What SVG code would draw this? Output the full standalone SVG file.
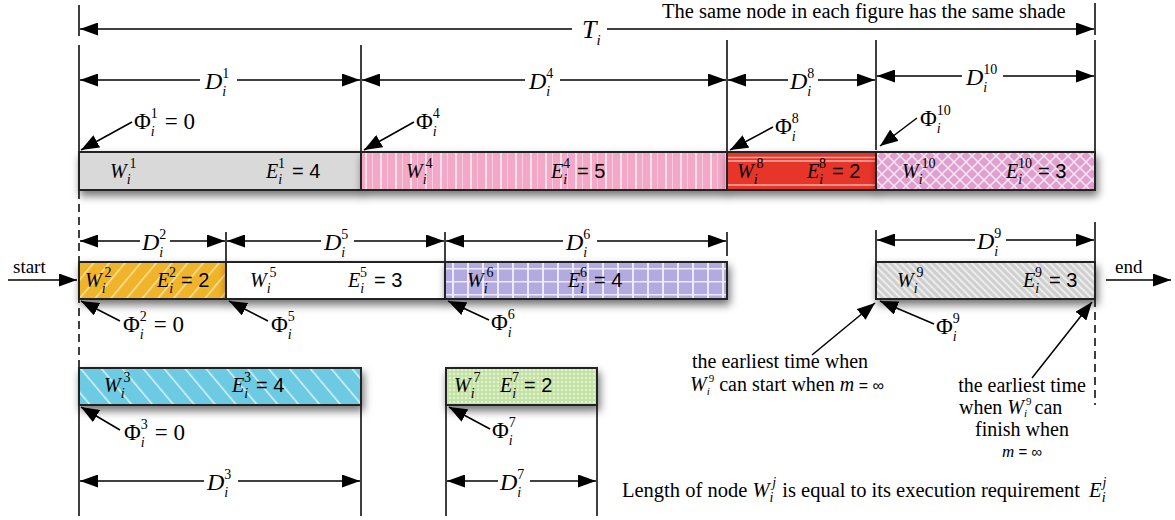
<svg xmlns="http://www.w3.org/2000/svg" width="1175" height="520" viewBox="0 0 1175 520">
<defs>
<style>
.t{font-family:"Liberation Serif",serif;font-size:20px;fill:#000}
.it{font-style:italic}
.s{font-size:14px}
.sa{font-family:"Liberation Sans",sans-serif}
.big{font-size:24px}
.ph{font-size:23px}
.an{font-size:20px}
.ln{stroke:#000;stroke-width:1.5;fill:none}
.dl{stroke:#000;stroke-width:1.5;fill:none;stroke-dasharray:8,5}
.bar{stroke:#222;stroke-width:2}
.a{stroke:#000;stroke-width:1.5;fill:none;marker-end:url(#ah)}
.as{stroke:#000;stroke-width:1.5;fill:none;marker-start:url(#ahs)}
.p{stroke:#000;stroke-width:1.5;fill:none;marker-end:url(#ap)}
</style>
<marker id="ah" markerUnits="userSpaceOnUse" markerWidth="18" markerHeight="13" refX="18" refY="6.5" orient="auto"><path d="M0,0 L18,6.5 L0,13 z" fill="#000"/></marker>
<marker id="ahs" markerUnits="userSpaceOnUse" markerWidth="18" markerHeight="13" refX="0" refY="6.5" orient="auto"><path d="M18,0 L0,6.5 L18,13 z" fill="#000"/></marker>
<marker id="ap" markerUnits="userSpaceOnUse" markerWidth="18" markerHeight="14" refX="18" refY="7" orient="auto"><path d="M0,0 L18,7 L0,14 z" fill="#000"/></marker>
<filter id="sh" x="-5%" y="-30%" width="115%" height="180%"><feDropShadow dx="2" dy="5" stdDeviation="4" flood-color="#000" flood-opacity="0.55"/></filter>
<pattern id="p4" patternUnits="userSpaceOnUse" width="15" height="40" x="361"><rect width="15" height="40" fill="#f2a8c6"/><rect x="4" width="2" height="40" fill="#fbe0ea"/><rect x="11" width="1" height="40" fill="#f8d0e0"/></pattern>
<pattern id="p10" patternUnits="userSpaceOnUse" width="12" height="12"><rect width="12" height="12" fill="#dfa0d0"/><path d="M0,0 L12,12 M12,0 L0,12" stroke="#fbe6f4" stroke-width="1.5"/></pattern>
<pattern id="p2" patternUnits="userSpaceOnUse" width="12" height="12" patternTransform="rotate(40)"><rect width="12" height="12" fill="#f0b42a"/><rect width="1.5" height="12" fill="#fbe2a0"/></pattern>
<pattern id="p6" patternUnits="userSpaceOnUse" width="15" height="13" x="445" y="262"><rect width="15" height="13" fill="#b3abdf"/><rect x="7" width="2" height="13" fill="#eeeaff"/><rect y="6" width="15" height="1.5" fill="#eeeaff"/></pattern>
<pattern id="p9" patternUnits="userSpaceOnUse" width="5" height="5" patternTransform="rotate(-45)"><rect width="5" height="5" fill="#cfcfcf"/><rect width="2" height="5" fill="#ececec"/></pattern>
<pattern id="p3" patternUnits="userSpaceOnUse" width="16" height="16" patternTransform="rotate(-40)"><rect width="16" height="16" fill="#6ccbe2"/><rect width="1.5" height="16" fill="#d8f2fa"/></pattern>
<pattern id="p7" patternUnits="userSpaceOnUse" width="4" height="4"><rect width="4" height="4" fill="#c5e3a6"/><circle cx="2" cy="2" r="0.9" fill="#f4fbe8"/></pattern>
</defs>
<rect width="1175" height="520" fill="#fff"/>

<g id="guides">
<path class="ln" d="M79,5 V36 M1095,3 V35 M79,45 V152 M361,45 V152 M727,40 V152 M876,40 V150 M1095,40 V190 M226,232 V262 M445,232 V262 M727,232 V256 M876,230 V262 M1095,222 V262 M79,405 V516 M361,405 V516 M446,405 V516 M597,405 V516"/>
<path class="dl" d="M79,152 V372 M1095,299 V405"/>
</g>

<g id="connectors">
<line class="as" x1="80" y1="29" x2="572" y2="29"/><line class="a" x1="607" y1="29" x2="1094" y2="29"/>
<line class="as" x1="80" y1="80" x2="200" y2="80"/><line class="a" x1="237" y1="80" x2="360" y2="80"/>
<line class="as" x1="362" y1="80" x2="525" y2="80"/><line class="a" x1="560" y1="80" x2="726" y2="80"/>
<line class="as" x1="728" y1="80" x2="788" y2="80"/><line class="a" x1="818" y1="80" x2="875" y2="80"/>
<line class="as" x1="877" y1="76" x2="962" y2="76"/><line class="a" x1="1003" y1="76" x2="1094" y2="76"/>
<line class="as" x1="80" y1="241" x2="140" y2="241"/><line class="a" x1="170" y1="241" x2="225" y2="241"/>
<line class="as" x1="227" y1="241" x2="321" y2="241"/><line class="a" x1="354" y1="241" x2="444" y2="241"/>
<line class="as" x1="446" y1="241" x2="563" y2="241"/><line class="a" x1="597" y1="241" x2="726" y2="241"/>
<line class="as" x1="877" y1="240" x2="975" y2="240"/><line class="a" x1="1006" y1="240" x2="1094" y2="240"/>
<line class="as" x1="80" y1="481" x2="204" y2="481"/><line class="a" x1="238" y1="481" x2="360" y2="481"/>
<line class="as" x1="447" y1="481" x2="498" y2="481"/><line class="a" x1="530" y1="481" x2="596" y2="481"/>
<line class="a" x1="8" y1="280" x2="77" y2="280"/>
<line class="a" x1="1106" y1="280" x2="1171" y2="280"/>
<line class="p" x1="132" y1="122" x2="81" y2="150"/>
<line class="p" x1="414" y1="122" x2="364" y2="150"/>
<line class="p" x1="773" y1="127" x2="730" y2="150"/>
<line class="p" x1="917" y1="118" x2="880" y2="146"/>
<line class="p" x1="120" y1="321" x2="81" y2="301"/>
<line class="p" x1="268" y1="321" x2="229" y2="301"/>
<line class="p" x1="489" y1="320" x2="448" y2="301"/>
<line class="p" x1="934" y1="324" x2="880" y2="301"/>
<line class="p" x1="812" y1="355" x2="875" y2="303"/>
<line class="p" x1="1032" y1="378" x2="1092" y2="302"/>
<line class="p" x1="120" y1="430" x2="81" y2="407"/>
<line class="p" x1="490" y1="429" x2="449" y2="407"/>
</g>

<g id="n1" filter="url(#sh)"><rect class="bar" x="79" y="152" width="282" height="38" fill="#d9d9d9"/></g>
<g id="n4" filter="url(#sh)"><rect class="bar" x="361" y="152" width="366" height="38" fill="url(#p4)"/></g>
<g id="n8" filter="url(#sh)"><rect x="727" y="152" width="149" height="38" fill="#e8342b"/><path d="M728,157.5 H875 M728,161 H875 M728,185 H875" stroke="#f8b0a8" stroke-width="1.3"/><rect class="bar" x="727" y="152" width="149" height="38" fill="none"/></g>
<g id="n10" filter="url(#sh)"><rect class="bar" x="876" y="152" width="219" height="38" fill="url(#p10)"/></g>
<g id="n2" filter="url(#sh)"><rect class="bar" x="79" y="262" width="147" height="37" fill="url(#p2)"/></g>
<g id="n5" filter="url(#sh)"><rect class="bar" x="226" y="262" width="219" height="37" fill="#fff"/></g>
<g id="n6" filter="url(#sh)"><rect class="bar" x="445" y="262" width="282" height="37" fill="url(#p6)"/></g>
<g id="n9" filter="url(#sh)"><rect class="bar" x="876" y="262" width="219" height="37" fill="url(#p9)"/></g>
<g id="n3" filter="url(#sh)"><rect class="bar" x="79" y="368" width="282" height="37" fill="url(#p3)"/></g>
<g id="n7" filter="url(#sh)"><rect class="bar" x="446" y="368" width="151" height="37" fill="url(#p7)"/></g>

<g id="labels">
<text class="t" x="662" y="18" style="font-size:20.5px">The same node in each figure has the same shade</text>
<text class="t" x="582" y="38" style="font-size:26px"><tspan class="it">T</tspan><tspan class="it" style="font-size:15px" dy="7">i</tspan></text>
<text class="t big" x="205" y="89"><tspan class="it">D</tspan><tspan class="s it" dy="7">i</tspan><tspan class="s" dx="-4" dy="-18">1</tspan></text>
<text class="t big" x="529" y="89"><tspan class="it">D</tspan><tspan class="s it" dy="7">i</tspan><tspan class="s" dx="-4" dy="-18">4</tspan></text>
<text class="t big" x="790" y="89"><tspan class="it">D</tspan><tspan class="s it" dy="7">i</tspan><tspan class="s" dx="-4" dy="-18">8</tspan></text>
<text class="t big" x="966" y="85"><tspan class="it">D</tspan><tspan class="s it" dy="7">i</tspan><tspan class="s" dx="-4" dy="-18">10</tspan></text>
<text class="t big" x="142" y="250"><tspan class="it">D</tspan><tspan class="s it" dy="7">i</tspan><tspan class="s" dx="-4" dy="-18">2</tspan></text>
<text class="t big" x="324" y="250"><tspan class="it">D</tspan><tspan class="s it" dy="7">i</tspan><tspan class="s" dx="-4" dy="-18">5</tspan></text>
<text class="t big" x="566" y="250"><tspan class="it">D</tspan><tspan class="s it" dy="7">i</tspan><tspan class="s" dx="-4" dy="-18">6</tspan></text>
<text class="t big" x="977" y="249"><tspan class="it">D</tspan><tspan class="s it" dy="7">i</tspan><tspan class="s" dx="-4" dy="-18">9</tspan></text>
<text class="t big" x="207" y="490"><tspan class="it">D</tspan><tspan class="s it" dy="7">i</tspan><tspan class="s" dx="-4" dy="-18">3</tspan></text>
<text class="t big" x="500" y="490"><tspan class="it">D</tspan><tspan class="s it" dy="7">i</tspan><tspan class="s" dx="-4" dy="-18">7</tspan></text>

<text class="t ph" x="134" y="129">Φ<tspan class="s it" dy="7">i</tspan><tspan class="s" dx="-4" dy="-18">1</tspan><tspan dx="7" dy="11">= 0</tspan></text>
<text class="t ph" x="416" y="129">Φ<tspan class="s it" dy="7">i</tspan><tspan class="s" dx="-4" dy="-18">4</tspan></text>
<text class="t ph" x="775" y="134">Φ<tspan class="s it" dy="7">i</tspan><tspan class="s" dx="-4" dy="-18">8</tspan></text>
<text class="t ph" x="920" y="126">Φ<tspan class="s it" dy="7">i</tspan><tspan class="s" dx="-4" dy="-18">10</tspan></text>
<text class="t ph" x="123" y="332">Φ<tspan class="s it" dy="7">i</tspan><tspan class="s" dx="-4" dy="-18">2</tspan><tspan dx="7" dy="11">= 0</tspan></text>
<text class="t ph" x="271" y="332">Φ<tspan class="s it" dy="7">i</tspan><tspan class="s" dx="-4" dy="-18">5</tspan></text>
<text class="t ph" x="491" y="330">Φ<tspan class="s it" dy="7">i</tspan><tspan class="s" dx="-4" dy="-18">6</tspan></text>
<text class="t ph" x="936" y="334">Φ<tspan class="s it" dy="7">i</tspan><tspan class="s" dx="-4" dy="-18">9</tspan></text>
<text class="t ph" x="124" y="440">Φ<tspan class="s it" dy="7">i</tspan><tspan class="s" dx="-4" dy="-18">3</tspan><tspan dx="7" dy="11">= 0</tspan></text>
<text class="t ph" x="492" y="438">Φ<tspan class="s it" dy="7">i</tspan><tspan class="s" dx="-4" dy="-18">7</tspan></text>

<text class="t" x="110" y="178"><tspan class="it">W</tspan><tspan class="s it" dy="6">i</tspan><tspan class="s" dx="-1" dy="-16">1</tspan></text>
<text class="t" x="266" y="178"><tspan class="it">E</tspan><tspan class="s it" dy="6">i</tspan><tspan class="s" dx="-4" dy="-16">1</tspan><tspan class="sa" dx="7" dy="10">= 4</tspan></text>
<text class="t" x="406" y="178"><tspan class="it">W</tspan><tspan class="s it" dy="6">i</tspan><tspan class="s" dx="-1" dy="-16">4</tspan></text>
<text class="t" x="551" y="178"><tspan class="it">E</tspan><tspan class="s it" dy="6">i</tspan><tspan class="s" dx="-4" dy="-16">4</tspan><tspan class="sa" dx="7" dy="10">= 5</tspan></text>
<text class="t" x="737" y="178"><tspan class="it">W</tspan><tspan class="s it" dy="6">i</tspan><tspan class="s" dx="-1" dy="-16">8</tspan></text>
<text class="t" x="807" y="178"><tspan class="it">E</tspan><tspan class="s it" dy="6">i</tspan><tspan class="s" dx="-4" dy="-16">8</tspan><tspan class="sa" dx="6" dy="10">= 2</tspan></text>
<text class="t" x="902" y="178"><tspan class="it">W</tspan><tspan class="s it" dy="6">i</tspan><tspan class="s" dx="-1" dy="-16">10</tspan></text>
<text class="t" x="1006" y="178"><tspan class="it">E</tspan><tspan class="s it" dy="6">i</tspan><tspan class="s" dx="-4" dy="-16">10</tspan><tspan class="sa" dx="6" dy="10">= 3</tspan></text>

<text class="t" x="85" y="287"><tspan class="it">W</tspan><tspan class="s it" dy="6">i</tspan><tspan class="s" dx="-1" dy="-16">2</tspan></text>
<text class="t" x="157" y="287"><tspan class="it">E</tspan><tspan class="s it" dy="6">i</tspan><tspan class="s" dx="-4" dy="-16">2</tspan><tspan class="sa" dx="5" dy="10">= 2</tspan></text>
<text class="t" x="250" y="287"><tspan class="it">W</tspan><tspan class="s it" dy="6">i</tspan><tspan class="s" dx="-1" dy="-16">5</tspan></text>
<text class="t" x="348" y="287"><tspan class="it">E</tspan><tspan class="s it" dy="6">i</tspan><tspan class="s" dx="-4" dy="-16">5</tspan><tspan class="sa" dx="7" dy="10">= 3</tspan></text>
<text class="t" x="467" y="287"><tspan class="it">W</tspan><tspan class="s it" dy="6">i</tspan><tspan class="s" dx="-1" dy="-16">6</tspan></text>
<text class="t" x="568" y="287"><tspan class="it">E</tspan><tspan class="s it" dy="6">i</tspan><tspan class="s" dx="-4" dy="-16">6</tspan><tspan class="sa" dx="7" dy="10">= 4</tspan></text>
<text class="t" x="897" y="287"><tspan class="it">W</tspan><tspan class="s it" dy="6">i</tspan><tspan class="s" dx="-1" dy="-16">9</tspan></text>
<text class="t" x="1023" y="287"><tspan class="it">E</tspan><tspan class="s it" dy="6">i</tspan><tspan class="s" dx="-4" dy="-16">9</tspan><tspan class="sa" dx="7" dy="10">= 3</tspan></text>

<text class="t" x="104" y="392"><tspan class="it">W</tspan><tspan class="s it" dy="6">i</tspan><tspan class="s" dx="-1" dy="-16">3</tspan></text>
<text class="t" x="232" y="392"><tspan class="it">E</tspan><tspan class="s it" dy="6">i</tspan><tspan class="s" dx="-4" dy="-16">3</tspan><tspan class="sa" dx="5" dy="10">= 4</tspan></text>
<text class="t" x="454" y="392"><tspan class="it">W</tspan><tspan class="s it" dy="6">i</tspan><tspan class="s" dx="-1" dy="-16">7</tspan></text>
<text class="t" x="500" y="392"><tspan class="it">E</tspan><tspan class="s it" dy="6">i</tspan><tspan class="s" dx="-4" dy="-16">7</tspan><tspan class="sa" dx="5" dy="10">= 2</tspan></text>

<text class="t" x="13" y="273" style="font-size:19px">start</text>
<text class="t" x="1115" y="273" style="font-size:19px">end</text>

<text class="t an" x="780" y="368" text-anchor="middle">the earliest time when</text>
<text class="t an" x="690" y="391"><tspan class="it">W</tspan><tspan class="it" style="font-size:11px" dy="4">i</tspan><tspan style="font-size:11px" dx="-1" dy="-13">9</tspan><tspan dx="5" dy="9">can start when </tspan><tspan class="it">m</tspan><tspan class="sa" style="font-size:16px"> = ∞</tspan></text>
<text class="t an" x="1022" y="392" text-anchor="middle">the earliest time</text>
<text class="t an" x="959" y="414">when <tspan class="it">W</tspan><tspan class="it" style="font-size:11px" dy="3">i</tspan><tspan style="font-size:11px" dx="-1" dy="-12">9</tspan><tspan dx="3" dy="9">can</tspan></text>
<text class="t an" x="1022" y="436" text-anchor="middle">finish when</text>
<text class="t" x="1022" y="457" text-anchor="middle" style="font-size:17px"><tspan class="it">m</tspan><tspan class="sa" style="font-size:15px"> = ∞</tspan></text>

<text class="t" x="622" y="497" style="font-size:20.5px">Length of node <tspan class="it">W</tspan><tspan class="s it" dy="5">i</tspan><tspan class="s it" dx="-1" dy="-15">j</tspan><tspan dx="6" dy="10">is equal to its execution requirement </tspan><tspan class="it" dx="4">E</tspan><tspan class="s it" dy="5">i</tspan><tspan class="s it" dx="-3" dy="-15">j</tspan></text>
</g>
</svg>
